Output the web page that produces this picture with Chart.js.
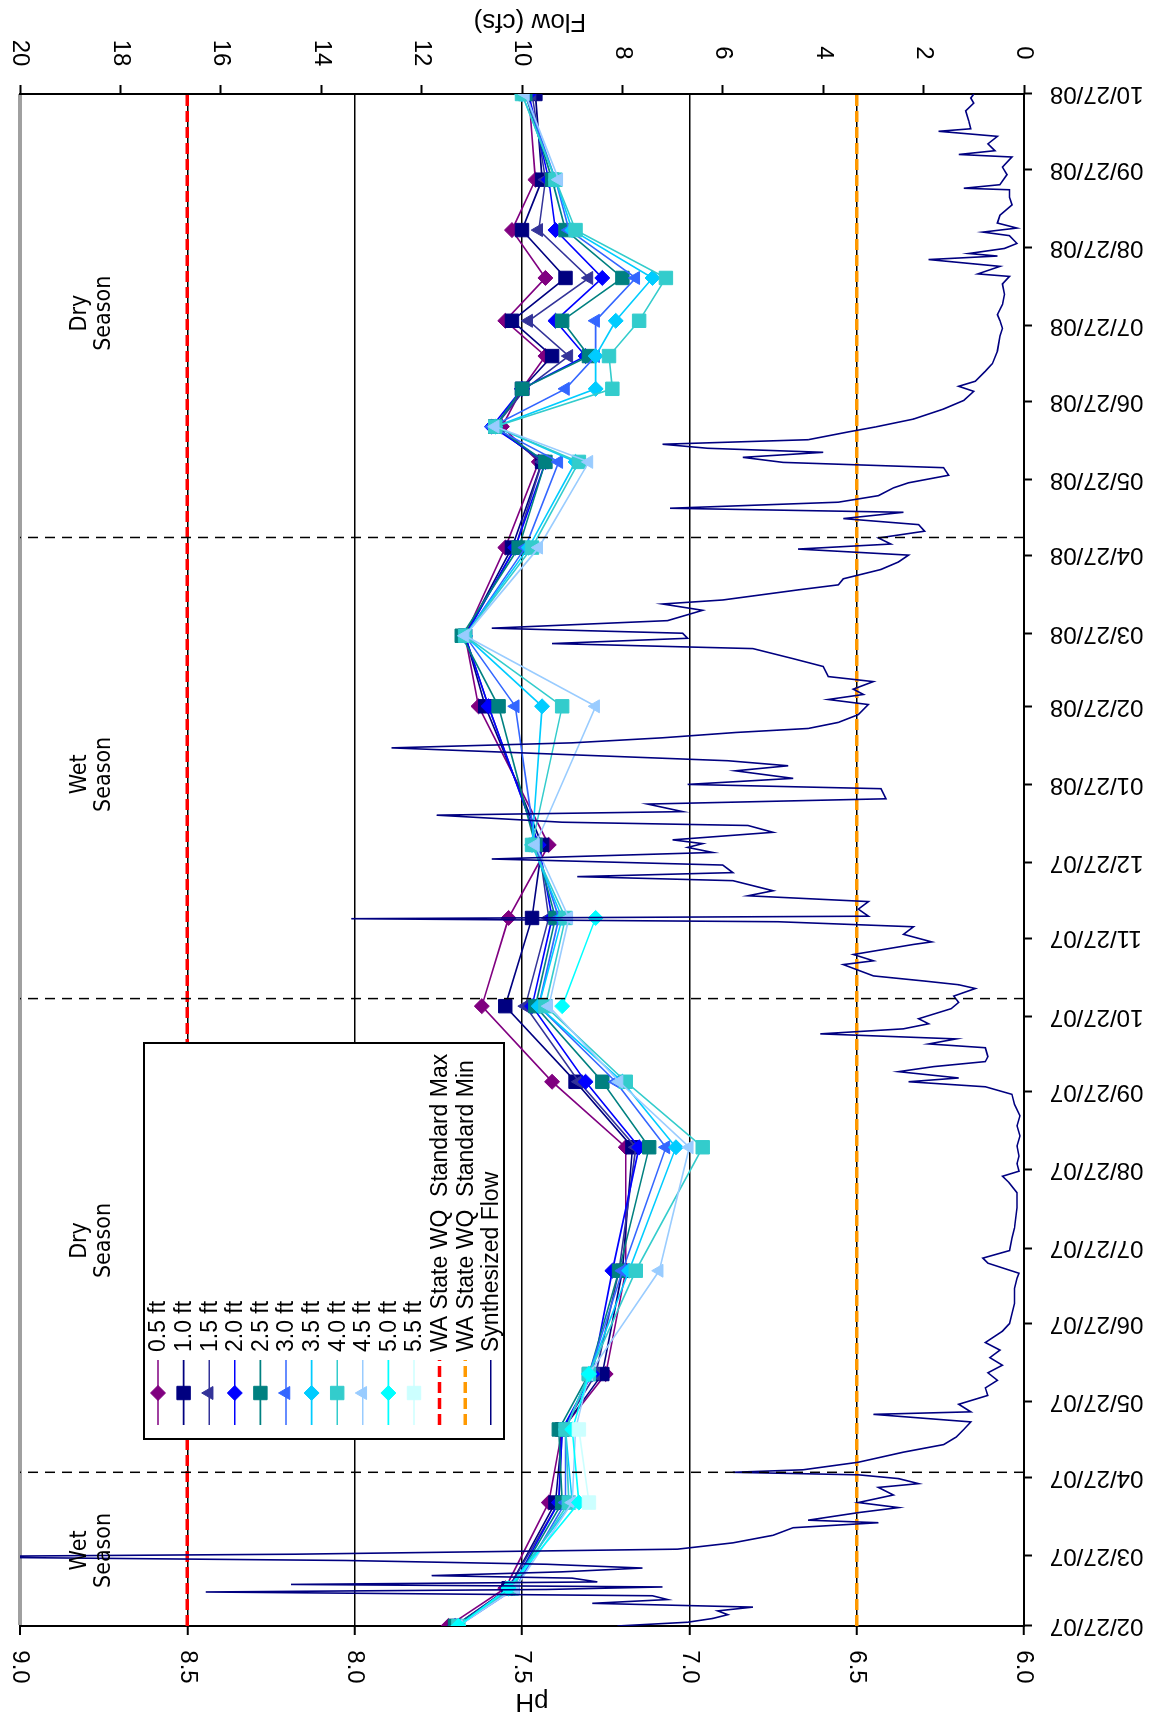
<!DOCTYPE html>
<html>
<head>
<meta charset="utf-8">
<title>pH by depth and synthesized flow</title>
<script src="https://cdn.jsdelivr.net/npm/chart.js@4.4.1/dist/chart.umd.min.js"></script>
<style>
  html, body { margin: 0; padding: 0; background: #fff; overflow: hidden; }
  /* the chart is laid out landscape and turned a quarter turn to stand upright */
  #wrap {
    position: absolute; left: 0; top: 0;
    width: 1721px; height: 1151px;
    transform-origin: 0 0;
    transform: translateY(1721px) rotate(-90deg);
  }
  canvas { display: block; }
</style>
</head>
<body>
<div id="wrap"><canvas id="phChart" width="1721" height="1151"></canvas></div>
<script>
// sampling dates
var sampleDates = ["02/27/07", "03/14/07", "04/17/07", "05/16/07", "06/07/07", "07/18/07",
  "09/05/07", "10/01/07", "10/31/07", "12/05/07", "01/03/08", "02/27/08", "03/26/08",
  "04/30/08", "06/03/08", "06/17/08", "07/02/08", "07/15/08", "07/29/08", "08/15/08",
  "09/03/08", "09/23/08", "10/27/08"];

// pH at each depth below the surface
var ph05 = [7.72, 7.55, 7.42, 7.38, 7.25, 7.19, 7.19, 7.41, 7.62, 7.54, 7.42, 7.63, 7.67, 7.55, 7.45, 7.56, 7.50, 7.43, 7.55, 7.43, 7.53, 7.46, 7.48];
var ph10 = [7.70, 7.54, 7.40, 7.38, 7.26, 7.20, 7.17, 7.34, 7.55, 7.47, 7.44, 7.61, 7.67, 7.53, 7.44, 7.58, 7.50, 7.41, 7.53, 7.37, 7.50, 7.44, 7.46];
var ph15 = [7.70, 7.54, 7.39, 7.38, 7.28, 7.21, 7.16, 7.33, 7.49, 7.42, 7.45, 7.60, 7.67, 7.52, 7.44, 7.58, 7.49, 7.36, 7.48, 7.30, 7.45, 7.43, 7.47];
var ph20 = [7.70, 7.53, 7.39, 7.38, 7.29, 7.23, 7.15, 7.31, 7.47, 7.41, 7.45, 7.60, 7.67, 7.52, 7.43, 7.59, 7.50, 7.31, 7.40, 7.26, 7.40, 7.42, 7.48];
var ph25 = [7.70, 7.53, 7.38, 7.39, 7.30, 7.21, 7.12, 7.26, 7.46, 7.40, 7.46, 7.57, 7.68, 7.51, 7.43, 7.58, 7.50, 7.30, 7.38, 7.20, 7.37, 7.41, 7.49];
var ph30 = [7.69, 7.52, 7.37, 7.37, 7.30, 7.20, 7.07, 7.22, 7.45, 7.39, 7.46, 7.52, 7.67, 7.49, 7.39, 7.59, 7.37, 7.28, 7.28, 7.16, 7.36, 7.40, 7.49];
var ph35 = [7.69, 7.54, 7.35, 7.37, 7.30, 7.18, 7.04, 7.20, 7.45, 7.38, 7.47, 7.44, 7.67, 7.48, 7.34, 7.58, 7.28, 7.28, 7.22, 7.11, 7.35, 7.40, 7.50];
var ph40 = [7.69, 7.53, 7.36, 7.37, 7.30, 7.16, 6.96, 7.19, 7.43, 7.37, 7.47, 7.38, 7.67, 7.47, 7.33, 7.58, 7.23, 7.24, 7.15, 7.07, 7.34, 7.40, 7.50];
var ph45 = [7.69, 7.52, 7.35, 7.34, 7.30, 7.09, 7.00, 7.21, 7.42, 7.36, 7.46, 7.28, 7.67, 7.45, 7.30, 7.58, null, null, null, null, null, 7.39, 7.49];
var ph50 = [7.69, 7.54, 7.33, 7.35, 7.30, null, null, null, 7.38, 7.28, null, null, null, null, null, null, null, null, null, null, null, null, null];
var ph55 = [null, null, 7.30, 7.33, null, null, null, null, null, null, null, null, null, null, null, null, null, null, null, null, null, null, null];

var depthLabels = ["0.5 ft", "1.0 ft", "1.5 ft", "2.0 ft", "2.5 ft", "3.0 ft", "3.5 ft", "4.0 ft", "4.5 ft", "5.0 ft", "5.5 ft"];
var depthValues = [ph05, ph10, ph15, ph20, ph25, ph30, ph35, ph40, ph45, ph50, ph55];
var depthColors = ["#800080", "#000080", "#333399", "#0000ff", "#008080", "#3366ff", "#00ccff", "#33cccc", "#99ccff", "#00ffff", "#ccffff"];
var depthMarkers = ["rectRot", "rect", "triangle", "rectRot", "rect", "triangle", "rectRot", "rect", "triangle", "rectRot", "rect"];

// water quality limits
var phMax = 8.5;
var phMin = 6.5;

// synthesized daily flow (days after 02/27/07, cfs)
var flowDays = [0, 1.5, 3, 4.5, 6, 7.5, 9, 10.5, 12, 13.5, 14.5, 15.5, 16.5, 17.5, 19, 20, 21.5, 23, 24.5, 26,
  27.5, 28.5, 30.5, 33, 36, 39, 41, 42, 45, 47, 49, 52, 55, 56.5, 58.5, 60, 61, 62, 65, 69,
  72, 75, 78, 81, 84, 85, 88, 91.5, 94.5, 97.5, 100.5, 103.5, 106.5, 109.5, 112.5, 117, 120, 124, 128, 134,
  138, 140, 144, 146, 149, 154, 158, 166, 172, 176, 178.5, 180.5, 183.5, 186.5, 190.5, 194.5, 198.5, 202.5, 207, 211,
  214, 216, 217.5, 220, 222, 224, 226, 229.5, 231, 233, 235, 237, 239, 241, 245, 247.5, 250, 253, 254.5, 256,
  258, 262.5, 264, 266.5, 270.5, 271.5, 274.5, 277.5, 279.5, 280.7, 281.7, 284.5, 287.5, 289.8, 291.8, 295.8, 297.4, 299, 302, 304.4,
  307, 309, 310.5, 312, 315, 317.7, 319, 321.8, 323.2, 326.2, 328.3, 332.3, 334, 336.4, 339.4, 341.4, 343.4, 348.5, 350.5, 352.5,
  354.6, 356.2, 358.6, 361.7, 365.7, 367.7, 369.7, 371.8, 374.8, 376.8, 380.8, 383.9, 387.9, 389.9, 392, 394, 396, 399, 403.1, 405.6,
  407.2, 411.2, 413.2, 415.6, 419.3, 422.3, 425, 427.4, 429.4, 431.8, 434.5, 437.1, 439.5, 442, 443.6, 446, 448.6, 451.7, 453.7, 456.7,
  459.7, 461.8, 463.8, 465.8, 467.4, 469, 470.8, 473.9, 475.9, 479, 483, 486.4, 490, 492, 494, 498, 501, 506, 512, 515,
  518, 520.4, 524.5, 528.5, 532.6, 535.6, 536.6, 539.6, 542.3, 543.7, 544.7, 546.7, 548.7, 551.8, 553.2, 554.8, 556.8, 559.9, 564, 567,
  570, 570.6, 572, 576, 579, 583, 584, 585.5, 588.2, 591.2, 593.2, 594.2, 597.3, 601.3, 604.4, 606.4, 608];
var flowCfs = [8.1, 6.7, 6.2, 5.9, 6.1, 5.4, 8.6, 7.1, 7.4, 16.3, 9.5, 7.2, 14.6, 8.5, 9.0, 11.8, 9.2, 7.6, 9.5, 13.5,
  22, 14.5, 6.9, 5.8, 5.0, 4.6, 2.9, 4.3, 3.3, 2.5, 3.3, 2.6, 2.9, 2.1, 2.5, 3.3, 5.8, 4.4, 3.3, 2.4,
  1.6, 1.35, 1.2, 1.06, 3.0, 1.06, 1.3, 0.72, 0.77, 0.53, 0.72, 0.43, 0.68, 0.48, 0.77, 0.43, 0.29, 0.24, 0.19, 0.19,
  0.14, 0.10, 0.72, 0.82, 0.29, 0.24, 0.19, 0.14, 0.14, 0.30, 0.43, 0.10, 0.14, 0.10, 0.14, 0.08, 0.14, 0.08, 0.19, 0.24,
  0.77, 2.3, 1.3, 2.5, 1.8, 0.77, 0.72, 0.77, 1.9, 1.35, 4.06, 2.4, 1.9, 2.1, 1.45, 1.3, 1.4, 0.97, 1.3, 2.0,
  3.0, 3.6, 3.0, 3.4, 2.2, 1.84, 2.4, 2.2, 4.9, 13.4, 3.1, 3.3, 3.1, 5.5, 5.0, 5.8, 8.9, 5.8, 6.0, 10.6,
  6.2, 6.7, 6.4, 7.0, 5.0, 5.5, 9.2, 11.7, 6.8, 7.5, 2.75, 2.85, 6.7, 4.6, 5.75, 4.7, 5.9, 12.6, 9.0, 7.2,
  5.75, 4.3, 3.7, 3.3, 3.1, 3.9, 3.2, 3.4, 3.0, 3.9, 4.0, 4.6, 5.4, 9.4, 6.7, 6.8, 10.6, 7.1, 6.4, 7.2,
  6.0, 4.5, 3.7, 3.6, 2.85, 2.5, 2.3, 4.5, 2.65, 2.9, 1.98, 2.1, 3.6, 2.4, 7.05, 3.7, 2.9, 2.6, 2.3, 1.5,
  1.6, 4.8, 5.6, 4.0, 6.3, 7.2, 4.3, 3.5, 2.95, 2.2, 1.6, 1.2, 1.0, 1.3, 0.97, 0.77, 0.63, 0.53, 0.48, 0.43,
  0.48, 0.53, 0.43, 0.39, 0.43, 0.29, 0.92, 0.48, 1.9, 0.53, 1.1, 0.39, 0.14, 0.29, 0.82, 0.14, 0.53, 0.48, 0.24, 0.29,
  0.29, 1.2, 0.48, 0.34, 0.43, 0.24, 1.3, 0.58, 0.72, 0.53, 1.7, 1.06, 1.1, 1.16, 1.0, 1.06, 1.0];

// wet / dry season boundaries
var seasonBreaks = ["04/29/07", "11/03/07", "05/04/08"];
var seasonNames = ["Wet", "Dry", "Wet", "Dry"];
var seasonCenters = ["03/29/07", "07/30/07", "01/31/08", "08/01/08"];

// axis ticks
var dateTicks = ["02/27/07", "03/27/07", "04/27/07", "05/27/07", "06/27/07", "07/27/07", "08/27/07",
  "09/27/07", "10/27/07", "11/27/07", "12/27/07", "01/27/08", "02/27/08", "03/27/08", "04/27/08",
  "05/27/08", "06/27/08", "07/27/08", "08/27/08", "09/27/08", "10/27/08"];
var phTicks = [6.0, 6.5, 7.0, 7.5, 8.0, 8.5, 9.0];
var flowTicks = [0, 2, 4, 6, 8, 10, 12, 14, 16, 18, 20];

var START = Date.UTC(2007, 1, 27);
function dayOf(s) {
  var p = s.split("/").map(Number);
  return (Date.UTC(2000 + p[2], p[0] - 1, p[1]) - START) / 86400000;
}

var FONT = '"Liberation Sans", Arial, sans-serif';
var NARROW = '"Liberation Sans Narrow", "Arial Narrow", "DejaVu Sans Condensed", sans-serif';

var datasets = [];
depthValues.forEach(function (vals, i) {
  datasets.push({
    label: depthLabels[i],
    data: sampleDates.map(function (d, k) { return { x: dayOf(d), y: vals[k] }; }),
    yAxisID: "y",
    borderColor: depthColors[i],
    backgroundColor: depthColors[i],
    pointBackgroundColor: depthColors[i],
    pointBorderColor: depthColors[i],
    borderWidth: 1.6,
    pointStyle: depthMarkers[i],
    pointRadius: depthMarkers[i] == "rect" ? 9.5 : 7.5,
    pointBorderWidth: 1,
    spanGaps: false,
    order: -i
  });
});
datasets.push({
  label: "WA State WQ  Standard Max",
  data: [{ x: 0, y: phMax }, { x: dayOf("10/27/08"), y: phMax }],
  yAxisID: "y", borderColor: "#ff0000", borderWidth: 3.5, borderDash: [11, 5],
  pointRadius: 0, order: -50
});
datasets.push({
  label: "WA State WQ  Standard Min",
  data: [{ x: 0, y: phMin }, { x: dayOf("10/27/08"), y: phMin }],
  yAxisID: "y", borderColor: "#ff9900", borderWidth: 3.5, borderDash: [11, 5],
  pointRadius: 0, order: -51
});
datasets.push({
  label: "Synthesized Flow",
  data: flowDays.map(function (d, k) { return { x: d, y: flowCfs[k] }; }),
  yAxisID: "y2", borderColor: "#000080", borderWidth: 1.6,
  pointRadius: 0, order: -100
});
seasonBreaks.forEach(function (s) {
  datasets.push({
    label: "",
    data: [{ x: dayOf(s), y: 6 }, { x: dayOf(s), y: 9 }],
    yAxisID: "y", borderColor: "#000", borderWidth: 1.5, borderDash: [10, 7],
    pointRadius: 0, order: -200
  });
});

function drawText(ctx, s, px, py, rot) {
  ctx.save();
  ctx.translate(px, py);
  ctx.rotate(rot);
  ctx.fillText(s, 0, 0);
  ctx.restore();
}

// axis labels, titles, season names and the boxed legend
var labelsPlugin = {
  id: "labelsPlugin",
  afterDraw: function (chart) {
    var ctx = chart.ctx;
    var sx = chart.scales.x, sy = chart.scales.y, sy2 = chart.scales.y2;
    var area = chart.chartArea;
    ctx.save();
    ctx.fillStyle = "#000";
    ctx.textBaseline = "middle";

    ctx.font = "24px " + FONT;
    ctx.textAlign = "center";
    phTicks.forEach(function (v) {
      drawText(ctx, v.toFixed(1), area.left - 41, sy.getPixelForValue(v), Math.PI);
    });
    flowTicks.forEach(function (v) {
      drawText(ctx, String(v), area.right + 41, sy2.getPixelForValue(v), Math.PI);
    });

    ctx.textAlign = "right";
    dateTicks.forEach(function (t) {
      drawText(ctx, t, sx.getPixelForValue(dayOf(t)), area.bottom + 26, -Math.PI / 2);
    });

    ctx.font = "26px " + FONT;
    ctx.textAlign = "center";
    drawText(ctx, "pH", area.left - 75, (area.top + area.bottom) / 2 + 10, -Math.PI / 2);
    drawText(ctx, "Flow (cfs)", area.right + 73, (area.top + area.bottom) / 2 + 8, -Math.PI / 2);

    ctx.font = "23px " + NARROW;
    seasonCenters.forEach(function (c, i) {
      var cx = sx.getPixelForValue(dayOf(c));
      ctx.fillText(seasonNames[i], cx, area.top + 60);
      ctx.fillText("Season", cx, area.top + 84);
    });

    // legend box
    var bx = 282, by = 144, bw = 396, bh = 360;
    ctx.fillStyle = "#fff";
    ctx.fillRect(bx, by, bw, bh);
    ctx.strokeStyle = "#000";
    ctx.lineWidth = 2;
    ctx.strokeRect(bx, by, bw, bh);
    ctx.font = "23px " + FONT;
    ctx.textAlign = "left";
    for (var i = 0; i < 14; i++) {
      var ds = chart.data.datasets[i];
      var ry = 158 + i * 25.6;
      ctx.save();
      ctx.strokeStyle = ds.borderColor;
      ctx.lineWidth = ds.borderWidth;
      ctx.setLineDash(ds.borderDash || []);
      ctx.beginPath();
      ctx.moveTo(296, ry);
      ctx.lineTo(361, ry);
      ctx.stroke();
      ctx.setLineDash([]);
      if (ds.pointRadius > 0) {
        ctx.fillStyle = ds.borderColor;
        ctx.lineWidth = 1;
        Chart.helpers.drawPoint(ctx, { pointStyle: ds.pointStyle, radius: ds.pointRadius, rotation: 0, borderWidth: 1 }, 328, ry);
      }
      ctx.restore();
      ctx.fillStyle = "#000";
      ctx.fillText(ds.label, 369, ry + 1);
    }
    ctx.restore();
  }
};

new Chart(document.getElementById("phChart"), {
  type: "line",
  data: { datasets: datasets },
  options: {
    responsive: false,
    animation: false,
    devicePixelRatio: 1,
    layout: { padding: { top: 20, left: 0, right: 0, bottom: 0 } },
    plugins: { legend: { display: false }, tooltip: { enabled: false } },
    elements: { line: { tension: 0 } },
    scales: {
      x: {
        type: "linear", position: "bottom", min: 0, max: dayOf("10/27/08"),
        afterBuildTicks: function (s) { s.ticks = dateTicks.map(function (t) { return { value: dayOf(t) }; }); },
        afterFit: function (s) { s.height = 127; },
        ticks: { display: false },
        grid: { drawOnChartArea: false, drawTicks: true, tickLength: 8, tickColor: "#000", tickWidth: 2 },
        border: { color: "#000", width: 2 }
      },
      y: {
        type: "linear", position: "left", min: 6, max: 9,
        afterBuildTicks: function (s) { s.ticks = phTicks.map(function (v) { return { value: v }; }); },
        afterFit: function (s) { s.width = 95; },
        ticks: { display: false },
        grid: {
          color: function (c) { return c.tick && c.tick.value == 9 ? "#a0a0a0" : "#000"; },
          lineWidth: function (c) { return c.tick && c.tick.value == 9 ? 4 : 1.5; },
          drawTicks: true, tickLength: 9, tickColor: "#000", tickWidth: 2
        },
        border: { color: "#000", width: 2 }
      },
      y2: {
        type: "linear", position: "right", min: 0, max: 20,
        afterBuildTicks: function (s) { s.ticks = flowTicks.map(function (v) { return { value: v }; }); },
        afterFit: function (s) { s.width = 94; },
        ticks: { display: false },
        grid: { drawOnChartArea: false, drawTicks: true, tickLength: 9, tickColor: "#000", tickWidth: 2 },
        border: { color: "#000", width: 2 }
      }
    }
  },
  plugins: [labelsPlugin]
});
</script>
</body>
</html>
